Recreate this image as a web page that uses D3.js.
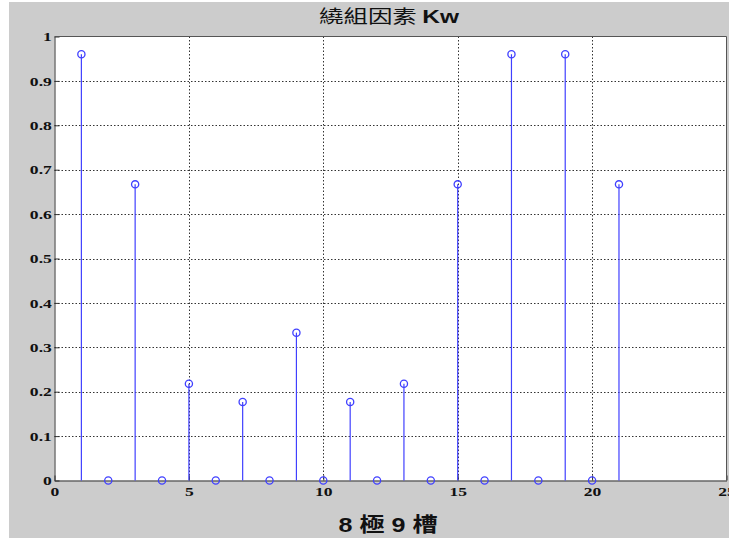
<!DOCTYPE html>
<html>
<head>
<meta charset="utf-8">
<script src="https://cdn.jsdelivr.net/npm/d3@7"></script>
<style>
  body { margin: 0; background: #fff; }
  .tick-label { font-family: "Liberation Serif", serif; font-weight: bold; font-size: 13px; fill: #111; }
</style>
</head>
<body>
<div class="chart"></div>
<script>
// harmonic order and winding factor
const harmonics = [1, 2, 3, 4, 5, 6, 7, 8, 9, 10, 11, 12, 13, 14, 15, 16, 17, 18, 19, 20, 21]
const kw = [0.96, 0, 0.667, 0, 0.218, 0, 0.177, 0, 0.333, 0, 0.177, 0, 0.218, 0, 0.667, 0, 0.96, 0, 0.96, 0, 0.667]
const xTicks = [0, 5, 10, 15, 20, 25]
const yTicks = [0, 0.1, 0.2, 0.3, 0.4, 0.5, 0.6, 0.7, 0.8, 0.9, 1]

const W = 729, H = 538
const mLeft = 54.5, mRight = 726.5, mTop = 36.5, mBottom = 480.5
const blue = '#4040ff'
const stretch = 1.35 // the reference is stretched sideways

const data = harmonics.map((h, i) => ({ h: h, v: kw[i] }))

const svg = d3.select('.chart')
  .append('svg')
    .attr('width', W)
    .attr('height', H)

//figure background
svg.append('rect')
  .attr('x', 9).attr('y', 2)
  .attr('width', W - 9).attr('height', H - 2)
  .attr('fill', '#cccccc')

const x = d3.scaleLinear().domain([0, 25]).range([mLeft, mRight])
const y = d3.scaleLinear().domain([0, 1]).range([mBottom, mTop])

//plot area
svg.append('rect')
  .attr('x', mLeft).attr('y', mTop)
  .attr('width', mRight - mLeft).attr('height', mBottom - mTop)
  .attr('fill', '#fff')

//grid
svg.append('g')
  .selectAll('line')
  .data(yTicks.slice(1, -1))
  .enter().append('line')
    .attr('x1', mLeft).attr('x2', mRight)
    .attr('y1', d => Math.round(y(d)) + 0.5)
    .attr('y2', d => Math.round(y(d)) + 0.5)
    .attr('stroke', '#333')
    .attr('stroke-dasharray', '1.5,2')

svg.append('g')
  .selectAll('line')
  .data(xTicks.slice(1, -1))
  .enter().append('line')
    .attr('x1', d => Math.round(x(d)) + 0.5)
    .attr('x2', d => Math.round(x(d)) + 0.5)
    .attr('y1', mTop).attr('y2', mBottom)
    .attr('stroke', '#333')
    .attr('stroke-dasharray', '1.5,2')

//axes (ticks inward, labels outside)
const xAxis = svg.append('g')
  .attr('transform', `translate(0,${mBottom})`)
  .call(d3.axisBottom(x).tickValues(xTicks).tickSize(-5).tickSizeOuter(0).tickPadding(6))
xAxis.select('.domain').attr('stroke', '#333')
xAxis.selectAll('line').attr('stroke', '#333')
xAxis.selectAll('text').attr('class', 'tick-label')
  .attr('transform', `scale(${stretch},1)`)

const yAxis = svg.append('g')
  .attr('transform', `translate(${mLeft},0)`)
  .call(d3.axisLeft(y).tickValues(yTicks).tickSize(-5).tickSizeOuter(0).tickPadding(2)
    .tickFormat(d => d === 0 || d === 1 ? d3.format('d')(d) : d3.format('.1f')(d)))
yAxis.select('.domain').attr('stroke', '#333')
yAxis.selectAll('line').attr('stroke', '#333')
yAxis.selectAll('text').attr('class', 'tick-label')
  .attr('transform', `scale(${stretch},1)`)

//right and top border
svg.append('path')
  .attr('d', `M${mLeft},${mTop}H${mRight}V${mBottom}`)
  .attr('fill', 'none')
  .attr('stroke', '#555')

//stems
svg.append('g')
  .selectAll('line')
  .data(data)
  .enter().append('line')
    .attr('x1', d => x(d.h)).attr('x2', d => x(d.h))
    .attr('y1', y(0)).attr('y2', d => y(d.v))
    .attr('stroke', blue)
    .attr('stroke-width', 1.2)

svg.append('g')
  .selectAll('circle')
  .data(data)
  .enter().append('circle')
    .attr('cx', d => x(d.h))
    .attr('cy', d => y(d.v))
    .attr('r', 3.6)
    .attr('fill', 'none')
    .attr('stroke', blue)
    .attr('stroke-width', 1.3)

//title
const title = svg.append('text')
  .attr('x', 389)
  .attr('y', 23)
  .attr('text-anchor', 'middle')
  .attr('font-size', '18px')
  .attr('fill', '#111')
  .attr('textLength', 140)
  .attr('lengthAdjust', 'spacingAndGlyphs')
title.append('tspan')
  .attr('font-family', '"Noto Sans CJK TC", sans-serif')
  .text('繞組因素 ')
title.append('tspan')
  .attr('font-family', '"Liberation Sans", Arial, sans-serif')
  .attr('font-weight', 'bold')
  .text('Kw')

//x label
svg.append('text')
  .attr('x', 388)
  .attr('y', 532)
  .attr('text-anchor', 'middle')
  .attr('font-size', '20px')
  .attr('font-weight', 'bold')
  .attr('font-family', '"Liberation Sans", "Noto Sans CJK TC", sans-serif')
  .attr('fill', '#111')
  .attr('textLength', 99)
  .attr('lengthAdjust', 'spacingAndGlyphs')
  .text('8 極 9 槽')
</script>
</body>
</html>
